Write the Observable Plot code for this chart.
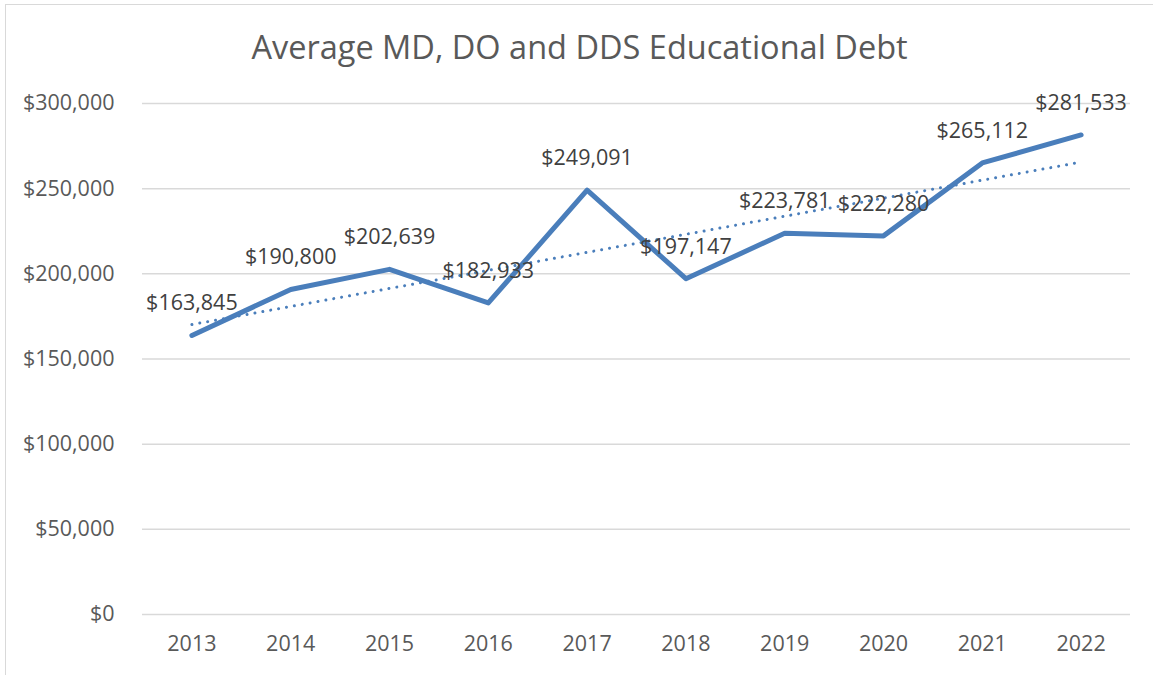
<!DOCTYPE html>
<html>
<head>
<meta charset="utf-8">
<script src="https://cdn.jsdelivr.net/npm/d3@7"></script>
<script src="https://cdn.jsdelivr.net/npm/@observablehq/plot@0.6"></script>
<style>
  html, body { margin: 0; padding: 0; background: #fff; }
  body { width: 1153px; height: 675px; overflow: hidden; position: relative; font-family: "Open Sans", sans-serif; }
  #frame { position: absolute; left: 5px; top: 4px; width: 1170px; height: 700px; border: 1.5px solid #d9d9d9; pointer-events: none; }
  #title { height: 65px; box-sizing: border-box; padding-top: 29px; line-height: 36px; font-size: 32.5px; color: #595959; text-align: center; padding-left: 6px; }
  #chart svg { display: block; }
</style>
</head>
<body>
<div id="frame"></div>
<div id="title">Average MD, DO and DDS Educational Debt</div>
<div id="chart"></div>
<script>
const years = [2013, 2014, 2015, 2016, 2017, 2018, 2019, 2020, 2021, 2022];
const debt = [163845, 190800, 202639, 182933, 249091, 197147, 223781, 222280, 265112, 281533];
const yTicks = [0, 50000, 100000, 150000, 200000, 250000, 300000];

const data = years.map((year, i) => ({year, value: debt[i]}));
const money = d3.format("$,");
const blue = "#4a7ebb";

const chart = Plot.plot({
  width: 1153,
  height: 610,
  marginTop: 38,
  marginBottom: 61,
  marginLeft: 142,
  marginRight: 23,
  style: {fontFamily: "Open Sans, sans-serif", fontSize: "21.5px", color: "#595959", background: "transparent"},
  x: {domain: [2012.5, 2022.5], ticks: years, tickFormat: "d", tickSize: 0, tickPadding: 21, label: null},
  y: {domain: [0, 300000], ticks: yTicks, tickFormat: money, tickSize: 0, tickPadding: 28, label: null},
  marks: [
    Plot.gridY(yTicks, {stroke: "#d9d9d9", strokeOpacity: 1, strokeWidth: 1.5}),
    Plot.axisX({ticks: years, tickFormat: "d", tickSize: 0, tickPadding: 21, fill: "#595959", fontSize: 21.5}),
    Plot.axisY({ticks: yTicks, tickFormat: money, tickSize: 0, tickPadding: 28, fill: "#595959", fontSize: 21.5}),
    Plot.line(data, {x: "year", y: "value", stroke: blue, strokeWidth: 5, strokeLinejoin: "round"}),
    Plot.linearRegressionY(data, {x: "year", y: "value", ci: 0, stroke: blue, strokeWidth: 3, strokeDasharray: "0.01,8", strokeLinecap: "round"}),
    Plot.text(data, {x: "year", y: "value", text: d => money(d.value), dy: -32, fill: "#404040", fontSize: 21.5})
  ]
});
document.getElementById("chart").appendChild(chart);
</script>
</body>
</html>
